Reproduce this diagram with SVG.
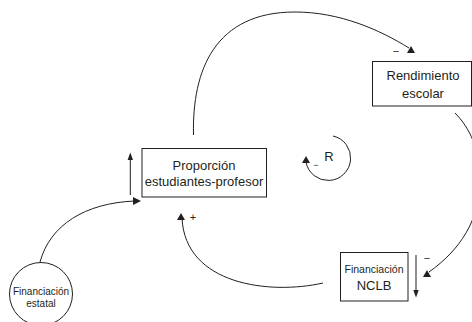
<svg xmlns="http://www.w3.org/2000/svg" width="472" height="322" viewBox="0 0 472 322">
<defs>
<style>
.box{fill:#fff;stroke:#231f20;stroke-width:1}
.ln{fill:none;stroke:#231f20;stroke-width:1}
.ah{fill:#231f20}
text{font-family:"Liberation Sans",Arial,sans-serif;fill:#231f20;text-anchor:middle}
.l13{font-size:13px}
.l11{font-size:10.5px}
.l10{font-size:10px}
.sg{font-size:11px}
</style>
<path id="tri" d="M-4,0 L4,0 L0,-7 Z"/>
</defs>
<rect width="472" height="322" fill="#fff"/>
<g id="connectors">
<path class="ln" d="M193.5,135 C192,70 215,12 295,12 C340,12 380,30 409,48"/>
<use href="#tri" class="ah" x="411" y="53"/>
<text class="sg" x="396" y="55">−</text>
<path class="ln" d="M455,113 C470,128 480,150 480,180 C480,220 460,250 429,272"/>
<use href="#tri" class="ah" x="427" y="277"/>
<text class="sg" x="427" y="262">−</text>
<path class="ln" d="M416,255 L416,292"/>
<path class="ah" d="M413.3,290 L418.7,290 L416,297.5 Z"/>
<path class="ln" d="M323,283 C270,295 185,285 182,218"/>
<use href="#tri" class="ah" x="181" y="220"/>
<text class="sg" x="193" y="221">+</text>
<path class="ln" d="M40,262 C50,225 85,203 135,201"/>
<path class="ah" d="M133,197 L133,205 L141,201 Z"/>
<path class="ln" d="M130.3,195 L130.3,158"/>
<path class="ah" d="M127.6,160 L133,160 L130.3,152.5 Z"/>
<path class="ln" d="M333,136 A22.5,22.5 0 1 1 306,162"/>
<use href="#tri" class="ah" x="306" y="163"/>
<text class="l13" x="329" y="161">R</text>
<text class="sg" x="316" y="168" style="font-size:9px">−</text>
</g>
<g id="proporcion">
<rect class="box" x="142" y="148.5" width="124.5" height="48.5"/>
<text class="l13" x="204" y="170">Proporción</text>
<text class="l13" x="204" y="186">estudiantes-profesor</text>
</g>
<g id="rendimiento">
<rect class="box" x="372.5" y="61.5" width="99" height="44.5"/>
<text class="l13" x="423" y="80">Rendimiento</text>
<text class="l13" x="423" y="97.5">escolar</text>
</g>
<g id="nclb">
<rect class="box" x="340.5" y="252.5" width="67.5" height="48.5"/>
<text class="l11" x="374" y="272.5">Financiación</text>
<text class="l13" x="374" y="289.5">NCLB</text>
</g>
<g id="estatal">
<circle class="box" cx="41" cy="294" r="31.5"/>
<text class="l10" x="41" y="295">Financiación</text>
<text class="l10" x="41" y="307">estatal</text>
</g>
</svg>
